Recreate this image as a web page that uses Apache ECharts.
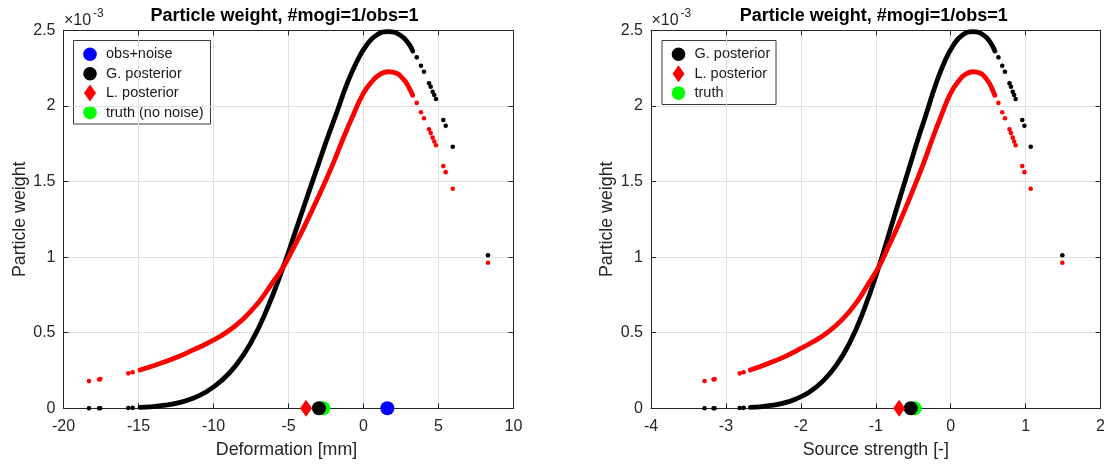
<!DOCTYPE html>
<html>
<head>
<meta charset="utf-8">
<script src="https://cdn.jsdelivr.net/npm/echarts@6/dist/echarts.min.js"></script>
<style>
  html, body { margin: 0; padding: 0; background: #ffffff; }
  #chart { width: 1108px; height: 464px; }
</style>
</head>
<body>
<div id="chart"></div>
<script>
// Particle weights are stored in units of 1e-3 (the axis carries the x10^-3 factor).

// Densely sampled stretch of the Gaussian-likelihood posterior
const gDenseWeight = [0.006, 0.010, 0.017, 0.033, 0.062, 0.108, 0.180, 0.285, 0.435, 0.640, 0.935, 1.180,
  1.400, 1.625, 1.775, 1.955, 2.140, 2.292, 2.403, 2.469, 2.491, 2.469, 2.414, 2.363];
const gDenseDef = [-14.9, -14.2, -13.5, -12.5, -11.5, -10.5, -9.5, -8.5, -7.5, -6.5, -5.35, -4.5,
  -3.75, -2.97, -2.45, -1.79, -1.12, -0.45, 0.21, 0.88, 1.65, 2.43, 2.99, 3.28];
const gDenseStr = [-2.675, -2.549, -2.424, -2.244, -2.065, -1.885, -1.706, -1.526, -1.346, -1.167, -0.960, -0.808,
  -0.673, -0.533, -0.440, -0.321, -0.201, -0.081, 0.038, 0.158, 0.296, 0.436, 0.537, 0.589];

// Densely sampled stretch of the L. posterior
const lDenseWeight = [0.253, 0.297, 0.337, 0.386, 0.440, 0.505, 0.593, 0.700, 0.812, 0.935, 1.075, 1.190,
  1.400, 1.625, 1.786, 1.940, 2.083, 2.171, 2.209, 2.226, 2.216, 2.178, 2.145, 2.070];
const lDenseDef = [-14.9, -13.57, -12.45, -11.35, -10.23, -9.1, -8.0, -7.0, -6.2, -5.35, -4.6, -4.0,
  -3.0, -2.0, -1.35, -0.68, -0.01, 0.65, 1.1, 1.65, 2.21, 2.65, 2.9, 3.28];
const lDenseStr = [-2.675, -2.436, -2.235, -2.038, -1.837, -1.634, -1.436, -1.257, -1.113, -0.960, -0.826, -0.718,
  -0.539, -0.359, -0.242, -0.122, -0.002, 0.117, 0.197, 0.296, 0.397, 0.476, 0.521, 0.589];

// Isolated particles in both tails
const tailDef = [-18.3, -17.63, -17.55, -15.68, -15.39, 3.55, 3.83, 4.03, 4.37, 4.48, 4.61, 4.72, 4.83, 5.32, 5.48, 5.95, 8.3];
const tailStr = [-3.285, -3.165, -3.151, -2.815, -2.763, 0.637, 0.688, 0.724, 0.785, 0.804, 0.828, 0.847, 0.867, 0.955, 0.984, 1.068, 1.490];
const gTailWeight = [0.0, 0.0, 0.0, 0.002, 0.003, 2.321, 2.266, 2.226, 2.149, 2.127, 2.094, 2.072, 2.046, 1.907, 1.869, 1.730, 1.012];
const lTailWeight = [0.180, 0.190, 0.193, 0.231, 0.238, 2.020, 1.958, 1.918, 1.845, 1.820, 1.790, 1.765, 1.740, 1.602, 1.562, 1.452, 0.963];

// Point estimates drawn on the zero line
const obsNoiseDef = 1.59;
const gPostDef = -2.97, lPostDef = -3.83, truthDef = -2.68;
const gPostStr = -0.533, lPostStr = -0.688, truthStr = -0.481;

// Axis ranges / tick steps
const defTicks = [-20, 10, 5];
const strTicks = [-4, 2, 1];
const weightTicks = [0, 2.5, 0.5];

const titleText = 'Particle weight, #mogi=1/obs=1';
const yTitle = 'Particle weight';
const xTitleDef = 'Deformation [mm]';
const xTitleStr = 'Source strength [-]';
const legendDef = ['obs+noise', 'G. posterior', 'L. posterior', 'truth (no noise)'];
const legendStr = ['G. posterior', 'L. posterior', 'truth'];

const FONT = '"Liberation Sans", Arial, Helvetica, sans-serif';
const INK = '#262626';
const GRIDC = '#e0e0e0';
const BLUE = '#0000ff', BLACK = '#000000', RED = '#ff0000', GREEN = '#00ff00';

const grids = [
  { left: 63.5, top: 30.3, width: 450, height: 378 },
  { left: 651, top: 30.3, width: 453.6, height: 378 }
];

function zip(xs, ys) { return xs.map((x, i) => [x, ys[i]]); }

function xAxisDef(gridIndex, position, t, primary) {
  return {
    type: 'value', gridIndex, position, min: t[0], max: t[1], interval: t[2],
    axisLine: { show: true, onZero: false, lineStyle: { color: INK, width: 1 } },
    axisTick: { show: true, inside: true, length: 5, lineStyle: { color: INK, width: 1 } },
    axisLabel: { show: primary, color: INK, fontFamily: FONT, fontSize: 16, margin: 10,
      showMinLabel: true, showMaxLabel: true },
    splitLine: { show: primary, lineStyle: { color: GRIDC, width: 1 } }
  };
}
function yAxisDef(gridIndex, position, t, primary) {
  return {
    type: 'value', gridIndex, position, min: t[0], max: t[1], interval: t[2],
    axisLine: { show: true, onZero: false, lineStyle: { color: INK, width: 1 } },
    axisTick: { show: true, inside: true, length: 5, lineStyle: { color: INK, width: 1 } },
    axisLabel: { show: primary, color: INK, fontFamily: FONT, fontSize: 16, margin: 8,
      showMinLabel: true, showMaxLabel: true },
    splitLine: { show: primary, lineStyle: { color: GRIDC, width: 1 } }
  };
}

function denseLine(ai, data, color) {
  return {
    type: 'line', xAxisIndex: ai, yAxisIndex: ai, data, symbol: 'none', showSymbol: false,
    smooth: 0.5, silent: true,
    lineStyle: { color, width: 4.8, cap: 'round', join: 'round' }
  };
}
function dots(ai, data, color, size, symbol) {
  return {
    type: 'scatter', xAxisIndex: ai, yAxisIndex: ai, data, symbol: symbol || 'circle',
    symbolSize: size, silent: true, itemStyle: { color, opacity: 1 }
  };
}

function plotSeries(ai, gx, lx, tx, marks) {
  const s = [
    denseLine(ai, zip(gx, gDenseWeight), BLACK),
    dots(ai, zip(tx, gTailWeight), BLACK, 4.6),
    denseLine(ai, zip(lx, lDenseWeight), RED),
    dots(ai, zip(tx, lTailWeight), RED, 4.6),
    dots(ai, [[marks.truth, 0]], GREEN, 14),
    dots(ai, [[marks.g, 0]], BLACK, 14),
    dots(ai, [[marks.l, 0]], RED, [12, 17], 'diamond')
  ];
  if (marks.obs !== undefined) s.push(dots(ai, [[marks.obs, 0]], BLUE, 14));
  return s;
}

function legendBox(x, y, w, h, items) {
  const els = [{ type: 'rect', shape: { x, y, width: w, height: h },
    style: { fill: '#ffffff', stroke: '#3a3a3a', lineWidth: 1 } }];
  items.forEach((it, i) => {
    const cy = y + 13.8 + 19.4 * i;
    const cx = x + 16.5;
    if (it.shape === 'diamond') {
      els.push({ type: 'polygon', shape: { points: [[cx, cy - 8.5], [cx + 6, cy], [cx, cy + 8.5], [cx - 6, cy]] },
        style: { fill: it.color } });
    } else {
      els.push({ type: 'circle', shape: { cx, cy, r: 6.8 }, style: { fill: it.color } });
    }
    els.push({ type: 'text', x: x + 32.5, y: cy,
      style: { text: it.label, fill: '#1a1a1a', font: '14.5px ' + FONT, align: 'left', verticalAlign: 'middle' } });
  });
  return els;
}

function plotText(g, xTitle) {
  const cx = g.left + g.width / 2;
  const cy = g.top + g.height / 2;
  return [
    { type: 'text', x: cx - 4, y: 16, style: { text: titleText, fill: '#000000',
      font: 'bold 18px ' + FONT, align: 'center', verticalAlign: 'middle' } },
    { type: 'text', x: g.left + 0.5, y: 20.5, style: { text: '\u00d710', fill: INK,
      font: '16px ' + FONT, align: 'left', verticalAlign: 'middle' } },
    { type: 'text', x: g.left + 29.5, y: 14, style: { text: '-3', fill: INK,
      font: '12px ' + FONT, align: 'left', verticalAlign: 'middle' } },
    { type: 'text', x: cx - 2, y: 450, style: { text: xTitle, fill: INK,
      font: '17.8px ' + FONT, align: 'center', verticalAlign: 'middle' } },
    { type: 'text', x: g.left - 43.5, y: cy, rotation: Math.PI / 2, style: { text: yTitle, fill: INK,
      font: '17.8px ' + FONT, align: 'center', verticalAlign: 'middle' } }
  ];
}

const legendLeft = legendBox(73.5, 40.5, 137, 83.5, [
  { label: legendDef[0], color: BLUE }, { label: legendDef[1], color: BLACK },
  { label: legendDef[2], color: RED, shape: 'diamond' }, { label: legendDef[3], color: GREEN }
]);
const legendRight = legendBox(662, 40.5, 114, 64, [
  { label: legendStr[0], color: BLACK }, { label: legendStr[1], color: RED, shape: 'diamond' },
  { label: legendStr[2], color: GREEN }
]);

const chart = echarts.init(document.getElementById('chart'), null, { renderer: 'canvas' });
chart.setOption({
  animation: false,
  backgroundColor: '#ffffff',
  grid: grids.map(g => Object.assign({ show: false, containLabel: false }, g)),
  xAxis: [
    xAxisDef(0, 'bottom', defTicks, true), xAxisDef(0, 'top', defTicks, false),
    xAxisDef(1, 'bottom', strTicks, true), xAxisDef(1, 'top', strTicks, false)
  ],
  yAxis: [
    yAxisDef(0, 'left', weightTicks, true), yAxisDef(0, 'right', weightTicks, false),
    yAxisDef(1, 'left', weightTicks, true), yAxisDef(1, 'right', weightTicks, false)
  ],
  series: [].concat(
    plotSeries(0, gDenseDef, lDenseDef, tailDef, { obs: obsNoiseDef, g: gPostDef, l: lPostDef, truth: truthDef }),
    plotSeries(2, gDenseStr, lDenseStr, tailStr, { g: gPostStr, l: lPostStr, truth: truthStr })
  ),
  graphic: { elements: [{ type: 'group', z: 100, children: [].concat(
    plotText(grids[0], xTitleDef), plotText(grids[1], xTitleStr), legendLeft, legendRight) }] }
});
</script>
</body>
</html>
